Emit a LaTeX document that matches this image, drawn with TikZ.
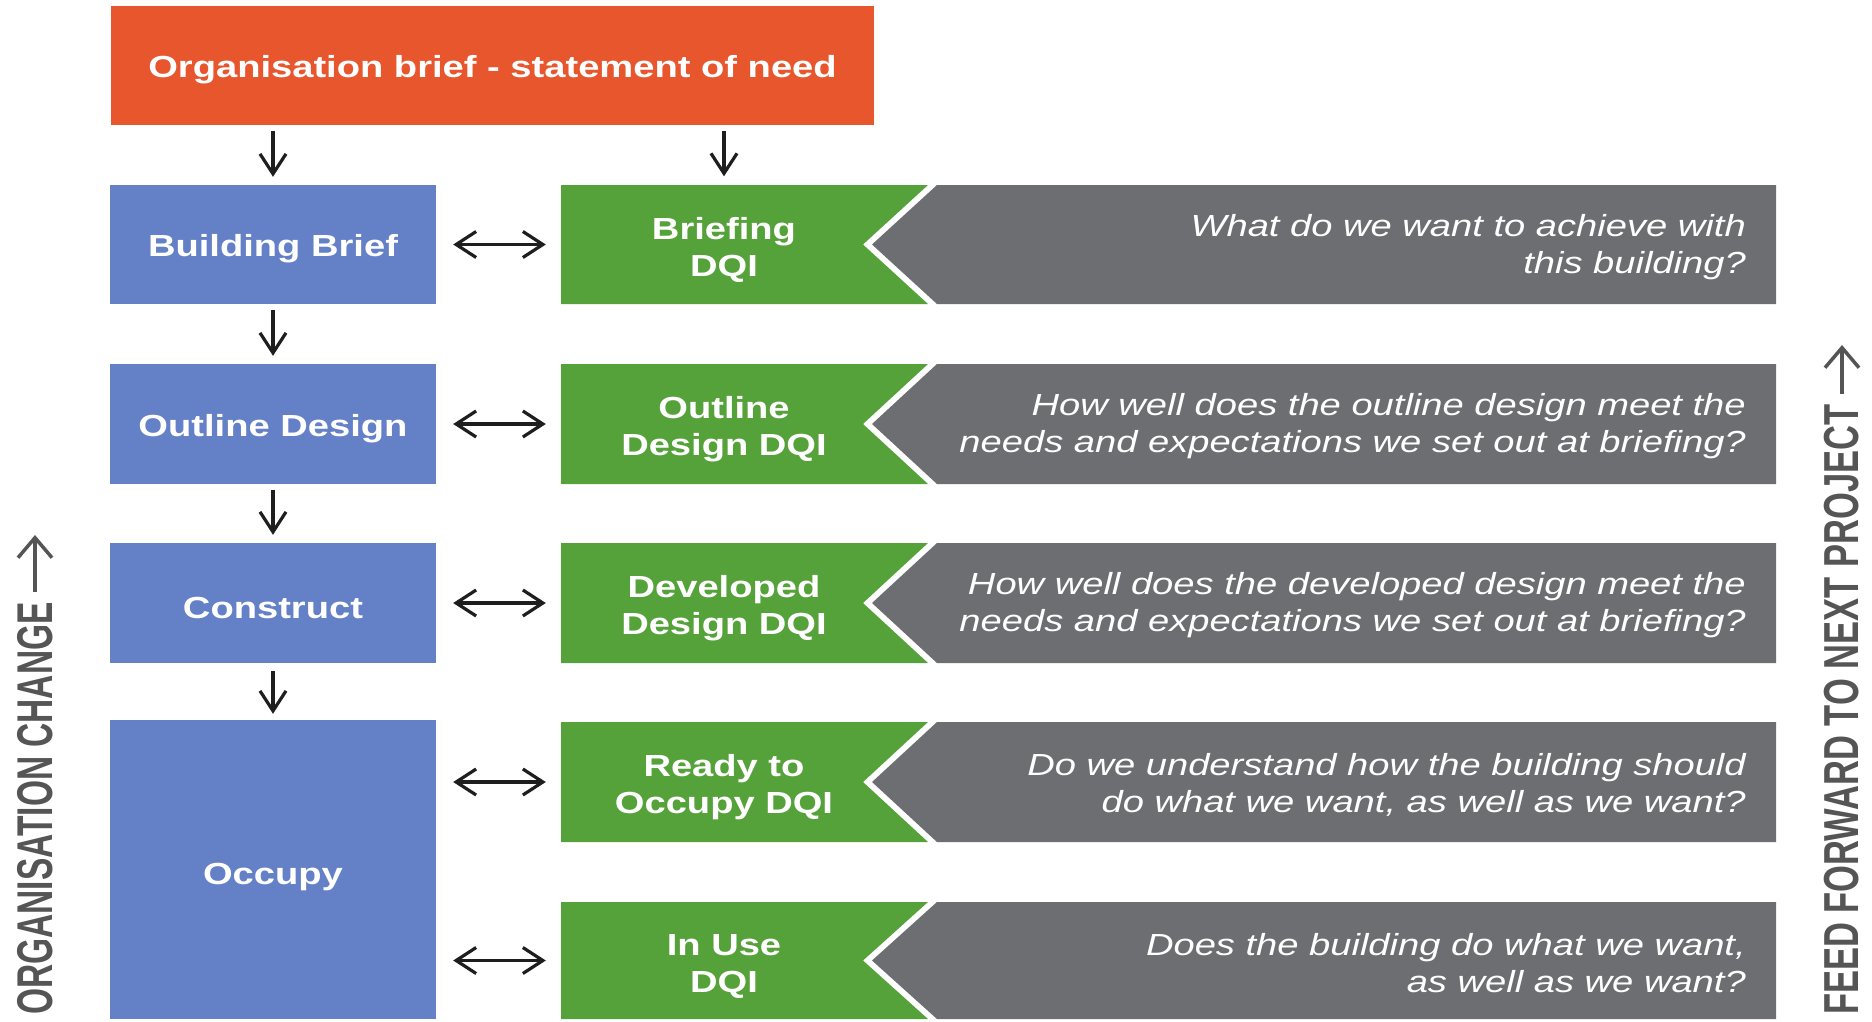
\documentclass[tikz,border=0pt]{standalone}
\usepackage{fontspec}
\setmainfont{Liberation Sans}[FakeStretch=1.25]
\newfontfamily\sidefont{Liberation Sans}
\usetikzlibrary{arrows.meta}
\definecolor{orgC}{RGB}{232,86,46}
\definecolor{blueC}{RGB}{100,128,198}
\definecolor{greenC}{RGB}{86,162,58}
\definecolor{grayC}{RGB}{109,110,113}
\definecolor{sideC}{RGB}{85,85,85}
\definecolor{arrC}{RGB}{30,30,30}
\tikzset{
  boldtxt/.style={font=\fontsize{30.5}{37}\selectfont\bfseries, text=white, align=center},
  qtxt/.style={font=\fontsize{30.5}{37}\selectfont\itshape, text=white, align=right, inner sep=0pt, anchor=east},
  bluebox/.style={fill=blueC, minimum width=326pt, inner sep=0pt},
  greenlbl/.style={minimum width=326pt, minimum height=120pt, inner sep=0pt},
  arr/.style={draw=arrC, line width=3.2pt, -{Straight Barb[length=20pt,width=26pt]}},
  darr/.style={draw=arrC, line width=3.2pt, {Straight Barb[length=20pt,width=26pt]}-{Straight Barb[length=20pt,width=26pt]}},
  sidetxt/.style={font=\sidefont\fontsize{33.5}{40}\selectfont\bfseries, text=sideC, inner sep=0pt, rotate=90, yscale=1.5, anchor=west},
  sidearr/.style={draw=sideC, line width=3.5pt, -{Straight Barb[length=20pt,width=34pt]}},
}
\begin{document}
\begin{tikzpicture}[x=1pt,y=-1pt]
\useasboundingbox (0,0) rectangle (1872,1021);

% title
\node[fill=orgC, minimum width=763pt, minimum height=119pt, inner sep=0pt] (org) at (492.5,65.5) {};
\node[boldtxt] (orgt) at (492.5,70) {Organisation brief - statement of need};

% left column
\node[bluebox, minimum height=119pt] (b1) at (273,244.5) {};
\node[bluebox, minimum height=120pt] (b2) at (273,424) {};
\node[bluebox, minimum height=120pt] (b3) at (273,603) {};
\node[bluebox, minimum height=299pt] (b4) at (273,869.5) {};
\node[boldtxt] (b1t) at (273,249) {Building Brief};
\node[boldtxt] (b2t) at (273,429) {Outline Design};
\node[boldtxt] (b3t) at (273,608) {Construct};
\node[boldtxt] (b4t) at (273,877) {Occupy};

% green + gray rows
\foreach \t/\m/\b in {185/244.5/304, 364/424/484, 543/603/663, 722/782/842, 902/960.5/1019}{
  \fill[greenC] (561,\t) -- (928,\t) -- (863,\m) -- (928,\b) -- (561,\b) -- cycle;
  \fill[grayC] (937,\t) -- (1776,\t) -- (1776,\b) -- (937,\b) -- (872,\m) -- cycle;
}

\node[greenlbl] (g1) at (724,244.5) {};
\node[greenlbl] (g2) at (724,424) {};
\node[greenlbl] (g3) at (724,603) {};
\node[greenlbl] (g4) at (724,782) {};
\node[greenlbl] (g5) at (724,960.5) {};
\node[boldtxt] (g1t) at (724,250) {Briefing\\DQI};
\node[boldtxt] (g2t) at (724,429.5) {Outline\\Design DQI};
\node[boldtxt] (g3t) at (724,608.5) {Developed\\Design DQI};
\node[boldtxt] (g4t) at (724,787.5) {Ready to\\Occupy DQI};
\node[boldtxt] (g5t) at (724,966) {In Use\\DQI};

\node[qtxt] (q1) at (1746,247) {What do we want to achieve with\\this building?};
\node[qtxt] (q2) at (1746,426.5) {How well does the outline design meet the\\needs and expectations we set out at briefing?};
\node[qtxt] (q3) at (1746,605.5) {How well does the developed design meet the\\needs and expectations we set out at briefing?};
\node[qtxt] (q4) at (1746,784.5) {Do we understand how the building should\\do what we want, as well as we want?};
\node[qtxt] (q5) at (1746,963) {Does the building do what we want,\\as well as we want?};

% vertical arrows
\draw[arr, shorten <=6pt, shorten >=8pt] (org.south -| b1) -- (b1.north);
\draw[arr, shorten <=6pt, shorten >=8pt] (org.south -| g1) -- (g1.north);
\draw[arr, shorten <=6pt, shorten >=8pt] (b1.south) -- (b2.north);
\draw[arr, shorten <=6pt, shorten >=8pt] (b2.south) -- (b3.north);
\draw[arr, shorten <=8pt, shorten >=6pt] (b3.south) -- (b4.north);

% double arrows
\draw[darr, shorten <=17pt, shorten >=15pt] (b1.east) -- (g1.west);
\draw[darr, shorten <=17pt, shorten >=15pt] (b2.east) -- (g2.west);
\draw[darr, shorten <=17pt, shorten >=15pt] (b3.east) -- (g3.west);
\draw[darr, shorten <=17pt, shorten >=15pt] (b4.east |- g4.west) -- (g4.west);
\draw[darr, shorten <=17pt, shorten >=15pt] (b4.east |- g5.west) -- (g5.west);

% side labels
\node[sidetxt] (orgchg) at (35,1015) {ORGANISATION CHANGE};
\coordinate (orgtip) at (35,535);
\draw[sidearr, shorten <=10pt] (orgchg.east) -- (orgtip);

\node[sidetxt, font=\sidefont\fontsize{34.5}{40}\selectfont\bfseries, yscale=0.95] (feed) at (1842,1015) {FEED FORWARD TO NEXT PROJECT};
\coordinate (feedtip) at (1842,345);
\draw[sidearr, shorten <=10pt] (feed.east) -- (feedtip);
\end{tikzpicture}
\end{document}
